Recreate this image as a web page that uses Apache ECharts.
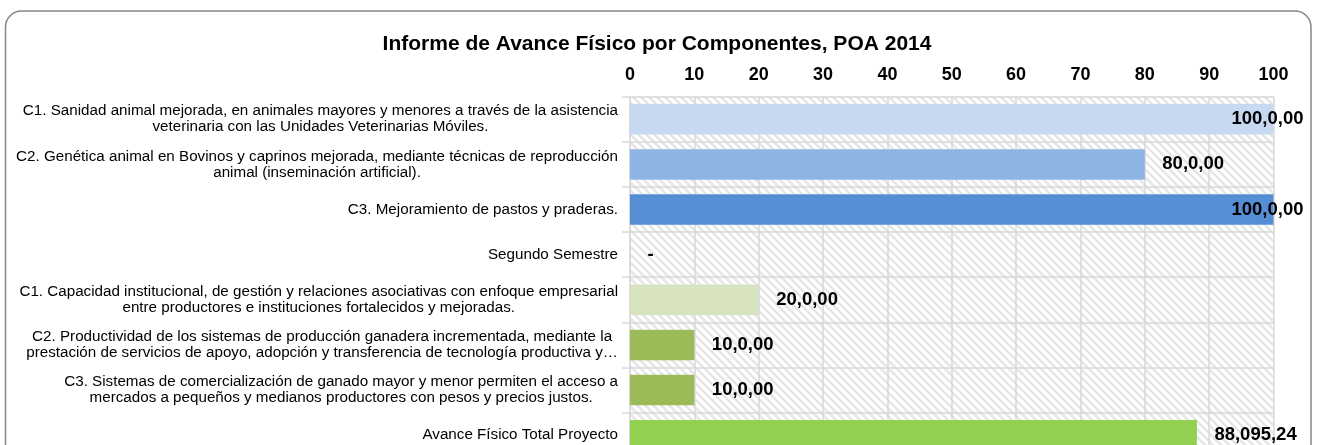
<!DOCTYPE html>
<html>
<head>
<meta charset="utf-8">
<script src="https://cdn.jsdelivr.net/npm/echarts@6/dist/echarts.min.js"></script>
<style>
html,body{margin:0;padding:0;background:#fff;overflow:hidden;}
#chart{width:1321px;height:470px;}
</style>
</head>
<body>
<div id="chart"></div>
<script>
// ---- data ----
const title = 'Informe de Avance Físico por Componentes, POA 2014';
const categories = [
  'C1. Sanidad animal mejorada, en animales mayores y menores a través de la asistencia\nveterinaria con las Unidades Veterinarias Móviles.',
  'C2. Genética animal en Bovinos y caprinos mejorada, mediante técnicas de reproducción\nanimal (inseminación artificial).',
  'C3. Mejoramiento de pastos y praderas.',
  'Segundo Semestre',
  'C1. Capacidad institucional, de gestión y relaciones asociativas con enfoque empresarial\nentre productores e instituciones fortalecidos y mejoradas.',
  'C2. Productividad de los sistemas de producción ganadera incrementada, mediante la\nprestación de servicios de apoyo, adopción y transferencia de tecnología productiva y…',
  'C3. Sistemas de comercialización de ganado mayor y menor permiten el acceso a\nmercados a pequeños y medianos productores con pesos y precios justos.',
  'Avance Físico Total Proyecto'
];
const values = [100, 80, 100, 0, 20, 10, 10, 88.09524];
const valueLabels = ['100,0,00', '80,0,00', '100,0,00', '-', '20,0,00', '10,0,00', '10,0,00', '88,095,24'];
const tickLabels = ['0', '10', '20', '30', '40', '50', '60', '70', '80', '90', '100'];

// ---- styles ----
const barColors = ['#C6D9F1', '#8EB4E3', '#558ED5', '#558ED5', '#D7E4BD', '#9BBB59', '#9BBB59', '#92D050'];
const FONT = '"Liberation Sans", Arial, sans-serif';

function hatch() {
  const c = document.createElement('canvas');
  c.width = 8; c.height = 8;
  const g = c.getContext('2d');
  g.fillStyle = '#ffffff';
  g.fillRect(0, 0, 8, 8);
  g.strokeStyle = '#E6E6E6';
  g.lineWidth = 2.5;
  g.beginPath();
  g.moveTo(-2, -2); g.lineTo(10, 10);
  g.moveTo(-10, -2); g.lineTo(2, 10);
  g.moveTo(6, -2); g.lineTo(18, 10);
  g.stroke();
  return c;
}

const maxV = Number(tickLabels[tickLabels.length - 1]);
const seriesData = values.map((v, i) => {
  const item = { value: v, itemStyle: { color: barColors[i] } };
  if (v >= maxV) {
    item.label = { position: 'insideRight', distance: 0, offset: [30, 0] };
  }
  return item;
});

const chart = echarts.init(document.getElementById('chart'), null, { renderer: 'canvas' });
chart.setOption({
  animation: false,
  backgroundColor: '#ffffff',
  title: {
    text: title,
    left: 652,
    textAlign: 'center',
    top: 29,
    textStyle: { fontFamily: FONT, fontWeight: 'bold', fontSize: 21, color: '#000' }
  },
  graphic: [{
    type: 'rect',
    shape: { x: 5.5, y: 11, width: 1305.5, height: 520, r: 16 },
    style: { fill: 'none', stroke: '#868686', lineWidth: 1.5 },
    silent: true,
    z: 100
  }],
  grid: {
    left: 630, top: 96.7, width: 643.5, height: 361,
    show: true,
    backgroundColor: { image: hatch(), repeat: 'repeat' },
    borderWidth: 0
  },
  xAxis: {
    type: 'value',
    position: 'top',
    min: 0, max: maxV, interval: 10,
    axisLine: { show: false },
    axisTick: { show: false },
    splitLine: { show: true, lineStyle: { color: '#D9D9D9', width: 1.5 } },
    axisLabel: {
      margin: 13,
      fontFamily: FONT, fontWeight: 'bold', fontSize: 18, color: '#000',
      formatter: (v) => tickLabels[Math.round(v / 10)] || ''
    }
  },
  yAxis: {
    type: 'category',
    inverse: true,
    data: categories,
    axisLine: { show: true, lineStyle: { color: '#D9D9D9', width: 1.5 } },
    axisTick: { show: true, length: 8, lineStyle: { color: '#D9D9D9', width: 1.5 } },
    splitLine: { show: true, lineStyle: { color: '#D9D9D9', width: 1.5 } },
    axisLabel: {
      margin: 12,
      fontFamily: FONT, fontSize: 15.2, color: '#000', lineHeight: 16,
      formatter: (v) => v.split('\n').map(l => '{c|' + l + '}').join('\n'),
      rich: { c: { align: 'center', fontFamily: FONT, fontSize: 15.2, color: '#000', lineHeight: 16 } }
    }
  },
  series: [{
    type: 'bar',
    data: seriesData,
    barWidth: 30.5,
    label: {
      show: true,
      position: 'right',
      distance: 17.5,
      fontFamily: FONT, fontWeight: 'bold', fontSize: 18.5, color: '#000',
      formatter: (p) => valueLabels[p.dataIndex]
    }
  }]
});
</script>
</body>
</html>
